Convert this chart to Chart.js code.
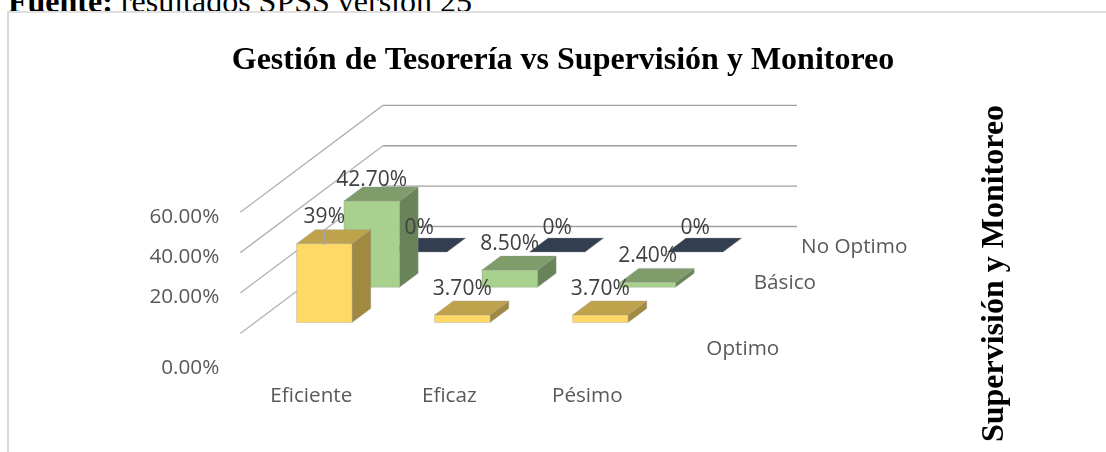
<!DOCTYPE html>
<html><head><meta charset="utf-8">
<script src="https://cdn.jsdelivr.net/npm/chart.js@4"></script>
<style>
html,body{margin:0;padding:0;background:#fff;overflow:hidden;width:1106px;height:452px}
#src{position:absolute;left:8px;top:-15px;font:32px/32px "Liberation Serif",serif;color:#000;white-space:nowrap}
#frame{position:absolute;left:7px;top:11px;width:1099px;height:441px;border-left:2px solid #d9d9d9;border-top:2px solid #e0e0e0;box-sizing:border-box;background:transparent}
canvas{position:absolute;left:0;top:0}
</style></head><body>
<div id="src"><b>Fuente:</b> resultados SPSS versión 25</div>
<div id="frame"></div>
<canvas id="c" width="1126" height="452" style="width:1126px;height:452px"></canvas>
<script>
const categories = ['Eficiente','Eficaz','Pésimo'];
const seriesNames = ['Optimo','Básico','No Optimo'];
const optimo = [39, 3.7, 3.7];
const basico = [42.7, 8.5, 2.4];
const noOptimo = [0, 0, 0];
const shownTicks = ['', '', '', '60.00%', '', '', '', '40.00%', '', '', '', '20.00%', '', '', '', '', '', '', '0.00%'];
const gridValues = [0, 20, 40, 60];

const frontColors = ['#FFD966','#A9D18E','#44546A'];
const topColors   = ['#BFA34C','#7F9D6A','#333F50'];
const sideColors  = ['#A1893F','#6A8459','#2B3543'];
const sansFont = '"Open Sans", sans-serif';
const serifFont = '"Liberation Serif", serif';

const ROW = {dx: 47.4, dy: 35.2};     // shift between series rows
const BAR = {dx: 18.7, dy: 14};       // depth of a single box
const WALL = {dx: 127.7, dy: 95.9};   // front plane to back wall
const FLOOR = {dx: 15, dy: 11};       // front plane to floor edge
const LABEL_LIFT = [[27,26,26],[21,26,26],[24,24,24]];

function poly(ctx, pts, fill){
  ctx.beginPath();
  pts.forEach((p,i)=> i ? ctx.lineTo(p[0],p[1]) : ctx.moveTo(p[0],p[1]));
  ctx.closePath();
  ctx.fillStyle = fill; ctx.fill();
  ctx.lineWidth = .75; ctx.strokeStyle = 'rgba(150,150,150,.45)'; ctx.stroke();
}
const fmt = v => Number.isInteger(v) ? v + '%' : v.toFixed(2) + '%';

const bar3d = {
  id: 'bar3d',
  beforeDatasetsDraw(chart){
    const {ctx, chartArea: a, scales: {y}} = chart;
    ctx.save();
    gridValues.forEach(v => {
      const py = y.getPixelForValue(v);
      ctx.lineWidth = 1.4;
      ctx.strokeStyle = '#b5b5b5';
      ctx.beginPath();
      ctx.moveTo(a.left - FLOOR.dx, py + FLOOR.dy);
      ctx.lineTo(a.left + WALL.dx, py - WALL.dy);
      ctx.stroke();
      ctx.strokeStyle = '#a0a0a0';
      ctx.beginPath();
      ctx.moveTo(a.left + WALL.dx, py - WALL.dy);
      ctx.lineTo(a.right + WALL.dx, py - WALL.dy);
      ctx.stroke();
    });
    for (let d = chart.data.datasets.length - 1; d >= 0; d--) {
      const ox = d * ROW.dx, oy = -d * ROW.dy;
      chart.getDatasetMeta(d).data.forEach(el => {
        const l = el.x - el.width/2 + ox, r = el.x + el.width/2 + ox;
        const t = el.y + oy, b = el.base + oy;
        poly(ctx, [[r,t],[r+BAR.dx,t-BAR.dy],[r+BAR.dx,b-BAR.dy],[r,b]], sideColors[d]);
        poly(ctx, [[l,t],[l+BAR.dx,t-BAR.dy],[r+BAR.dx,t-BAR.dy],[r,t]], topColors[d]);
        if (b - t > 0.5) poly(ctx, [[l,t],[r,t],[r,b],[l,b]], frontColors[d]);
      });
    }
    ctx.restore();
    return false;
  },
  afterDraw(chart){
    const {ctx, chartArea: a} = chart;
    ctx.save();
    const first = chart.getDatasetMeta(0).data[0];
    ctx.strokeStyle = '#a6a6a6'; ctx.lineWidth = 1.6;
    ctx.beginPath(); ctx.moveTo(first.x, first.y - 14); ctx.lineTo(first.x, first.y + 1); ctx.stroke();
    ctx.font = '21px ' + sansFont;
    ctx.fillStyle = '#404040';
    ctx.textAlign = 'center'; ctx.textBaseline = 'middle';
    chart.data.datasets.forEach((ds, d) => {
      chart.getDatasetMeta(d).data.forEach((el, i) => {
        ctx.fillText(fmt(ds.data[i]), el.x + d * ROW.dx, el.y - d * ROW.dy - LABEL_LIFT[d][i]);
      });
    });
    ctx.font = '20.7px ' + sansFont;
    ctx.fillStyle = '#595959';
    ctx.textAlign = 'left';
    const nudge = [27, -4, -5];
    seriesNames.forEach((name, d) => {
      const base = chart.scales.y.getPixelForValue(0);
      ctx.fillText(name, a.right + 37 + d * ROW.dx, base - d * ROW.dy + nudge[d]);
    });
    ctx.translate(995, 273.5);
    ctx.rotate(-Math.PI/2);
    ctx.font = 'bold 32px ' + serifFont;
    ctx.fillStyle = '#000';
    ctx.textAlign = 'center';
    ctx.fillText('Supervisión y Monitoreo', 0, 0);
    ctx.restore();
  }
};

new Chart(document.getElementById('c'), {
  type: 'bar',
  data: {
    labels: categories,
    datasets: [optimo, basico, noOptimo].map((values, d) => ({
      label: seriesNames[d], data: values, backgroundColor: frontColors[d],
      grouped: false, barThickness: 55.5, xAxisID: 'x', yAxisID: 'y'
    }))
  },
  options: {
    responsive: false, animation: false,
    layout: {autoPadding: false, padding: 0},
    plugins: {
      legend: {display: false}, tooltip: {enabled: false},
      title: {display: true, text: 'Gestión de Tesorería vs Supervisión y Monitoreo', color: '#000',
        font: {family: serifFont, size: 32, weight: 'bold', lineHeight: 1.2},
        padding: {top: 42, bottom: 106.4}}
    },
    scales: {
      x: {
        afterFit(s){ s.height = 452 - 367.7; },
        grid: {display: false}, border: {display: false},
        ticks: {color: '#595959', font: {family: sansFont, size: 20.7}, padding: 8, labelOffset: -13, maxRotation: 0}
      },
      y: {display: false, min: -22.4, max: 67.15},
      shown: {
        type: 'category', axis: 'y', position: 'left', labels: shownTicks, offset: false,
        afterFit(s){ s.width = 255.3; },
        grid: {display: false, drawTicks: false}, border: {display: false},
        ticks: {color: '#595959', font: {family: sansFont, size: 20.7}, padding: 36, autoSkip: false}
      },
      gutter: {
        type: 'linear', axis: 'y', position: 'right',
        afterFit(s){ s.width = 456.7; },
        grid: {display: false, drawTicks: false}, border: {display: false},
        ticks: {display: false}
      }
    }
  },
  plugins: [bar3d]
});
</script>
</body></html>
